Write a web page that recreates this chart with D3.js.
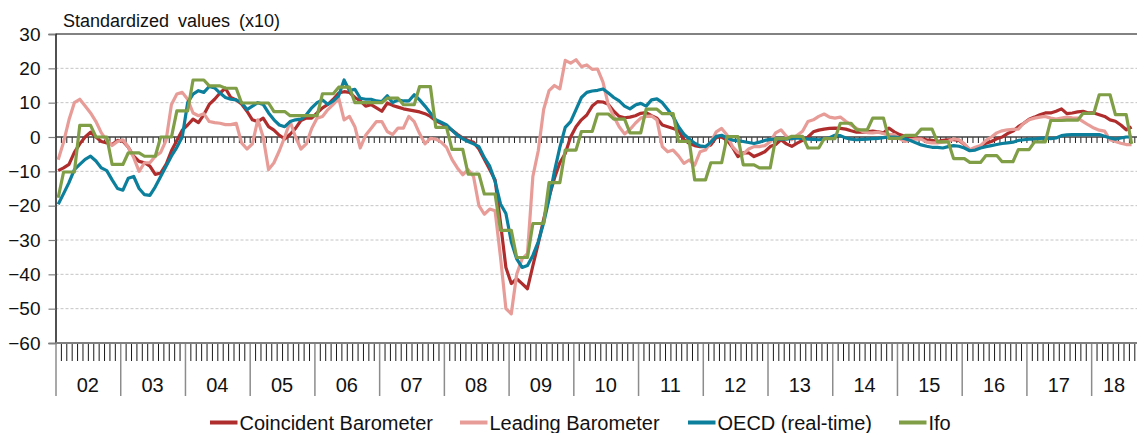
<!DOCTYPE html>
<html>
<head>
<meta charset="utf-8">
<script src="https://cdn.jsdelivr.net/npm/d3@7"></script>
<style>
  body { margin: 0; background: #fff; }
  svg { display: block; font-family: "Liberation Sans", Arial, sans-serif; }
</style>
</head>
<body>
<div id="chart"></div>
<script>
// monthly values, Jan 2002 .. Aug 2018
const yearLabels = ["02", "03", "04", "05", "06", "07", "08", "09", "10", "11", "12", "13", "14", "15", "16", "17", "18"];

const coincident = [
  -9.8, -9, -8, -4.5, -2, 0, 1.4, 0, -1.3, -1.7, -2.2, -1,
  -1.2, -3, -5.6, -7.1, -7.5, -8.5, -10.9, -10.5, -8, -4, -1, 2,
  3.5, 5.2, 4.2, 6.5, 9.5, 11, 12.8, 14.2, 11.5, 10.8, 9.6, 7.5,
  5, 4.5, 5.5, 3, 2, 0.5, -0.6, 0.8, 2.5, 4.8, 5.5, 5.5,
  7, 8.5, 9.5, 11, 12.8, 13.2, 13, 11.5, 10.5, 9, 9.4, 8.5,
  7.5, 9.9, 9.2, 8.7, 8.2, 7.9, 7.6, 7.3, 6.8, 6, 4.7, 4,
  3, 2, 0.8, -0.3, -1, -1.5, -3.5, -6.5, -9.5, -12.5, -25, -38,
  -42.7, -41.3, -42.7, -44.2, -37.5, -31, -24, -17.5, -12, -7.5, -4.8, 0,
  3, 5, 6.4, 9, 10.3, 10.2, 9.5, 7.5, 6, 5.6, 5.8, 6.2,
  6.9, 7.1, 6.2, 5.5, 3.5, 3, 2.5, 2, -0.7, -1.9, -2.5, -2.8,
  -2.8, -2.3, -0.1, 0, -0.9, -3, -5.7, -4.6, -4.6, -5.7, -5, -4.3,
  -2.8, -2.2, -0.8, -2, -2.7, -1.8, -1, 0, 1.5, 2, 2.3, 2.5,
  2.6, 2.5, 2.3, 1.8, 1.4, 1.4, 1.5, 1.7, 1.5, 1.2, 2.6, 1.5,
  0.7, 0.2, 0, -0.3, -0.5, -0.8, -1, -1.3, -1, -0.8, -0.8, -1,
  -2.2, -3.9, -3.3, -2.7, -1.8, -1.3, -0.5, 0, 1, 1.7, 3, 4,
  5.2, 5.8, 6.5, 7, 7, 7.5, 8.2, 6.8, 7, 7.3, 7.5, 7,
  7, 6.5, 6, 5, 4.6, 3.5, 2.1, 2.9
];

const leading = [
  -6.6, -1.5, 5, 10, 11, 9, 7, 4.5, 1.2, -1, -2.5, -1.3,
  -0.8, -3, -6, -10, -7.5, -7.5, -5.6, -4.5, -1, 9.5, 12.5, 13,
  11, 7, 6.2, 6.8, 4.5, 4.2, 4, 3.6, 3.6, 4, -1.7, -3.5,
  -2, 5, 0, -9.5, -7.5, -4, 0, 4.5, 0, -3.5, -2, 2.5,
  5.5, 6, 8, 9.5, 11.3, 5, 6, 3, -3.2, 0.5, 2.5, 4.5,
  4.5, 1.6, 0.7, 2.6, 2.6, 6, 4.5, 1, -2, -0.4, -0.6, -1.5,
  -3, -6.5, -9, -11, -9.5, -11.5, -20, -22.5, -21, -21.5, -35, -50,
  -51.5, -40, -35.5, -34, -11.5, -4, 8, 13.5, 15, 14, 22.3, 21.5,
  22.5, 20.5, 21, 19.7, 19.8, 16, 9.3, 6, 3, 0.9, 2.2, 4,
  5.5, 6, 6.1, 5, -2.8, -4.3, -3.8, -5.5, -7.7, -6.7, -8.2, -4.3,
  -3.8, -1.5, 1.5, 2.5, 0.6, -2.8, -4.5, -5, -3.5, -2.8, -2.8, -2.5,
  -1.4, 1.2, 2.1, 0.2, -0.8, 0.5, 1.7, 4.5, 5, 6, 6.7, 5.8,
  5.5, 5.8, 4.6, 3.5, 2.5, 1.7, 1.3, 1.2, 1.4, 1, 0.7, 0.7,
  -0.5, -1.3, -0.8, -0.6, -0.6, -1.5, -1.7, -1.7, -1.5, -1.3, -0.5, -0.8,
  -2, -3.7, -3, -2.5, -1, 0, 1.2, 1.8, 2.1, 2.2, 2.3, 4,
  5, 5.5, 5.8, 6, 5.5, 5.2, 5.5, 5.8, 5.6, 5.5, 4.5, 3.5,
  2.6, 2, 1.7, -0.8, -1.3, -1.8, -2.2, -2.2
];

const oecd = [
  -19.6, -16.5, -13.3, -9.5, -8, -6.5, -5.6, -7, -9, -9.8, -12.5, -15,
  -15.5, -12, -11.5, -15, -16.8, -17, -14.5, -11.5, -8.5, -5.5, -3, 0,
  10, 12.5, 13.5, 13, 14.7, 14.3, 12.8, 11.5, 11, 10.8, 10, 8,
  9, 10, 9.5, 7, 5, 3.5, 3, 4.5, 5, 5.2, 6.5, 8.5,
  10, 10.8, 9.5, 10.5, 12, 16.6, 13.5, 13.9, 11.3, 11, 11, 10.5,
  10.3, 12, 10, 10.8, 10.5, 10.5, 12.3, 10.8, 9, 7, 5, 4.3,
  3.5, 2, 0.5, -0.5, -1.3, -2, -2.8, -6, -8.5, -13, -19.5, -22.3,
  -30.5, -35.5, -38, -37.4, -34.5, -30.5, -25, -18, -10, -3, 2.8, 4.5,
  8, 11.5, 13, 13.4, 13.6, 14, 12.8, 11.5, 10.5, 9, 8.2, 9.3,
  9.8, 9, 10.8, 11.1, 10, 8, 6, 3, 0.8, -0.6, -1.8, -2.6,
  -2.8, -1.5, 0.2, 0.5, -0.3, -0.9, -1.1, -1.3, -1.6, -1.9, -1.5, -1,
  -0.7, -0.6, -0.6, -0.6, -0.4, -0.3, -0.5, -0.6, -0.7, -0.8, -0.6, -0.2,
  0.5, 0.4, -0.3, -0.6, -0.8, -0.7, -0.6, -0.5, -0.4, -0.2, 0, 0,
  -0.2, -0.5, -1, -1.7, -2.3, -2.7, -3, -3, -3.2, -2.8, -2.5, -2.7,
  -3.2, -4, -3.8, -3.2, -2.8, -2.5, -2.2, -1.9, -1.7, -1.5, -1, -0.8,
  -0.6, -0.6, -0.4, -0.3, -0.5, -0.3, 0.4, 0.6, 0.7, 0.7, 0.7, 0.7,
  0.7, 0.7, 0.2, -0.3, -0.6, -0.3, 0, 0
];

const ifo = [
  -17.7, -10.2, -10.2, -10.2, 3.4, 3.4, 3.4, 0, 0, 0, -8, -8,
  -8, -4.6, -4.6, -4.6, -5.6, -5.6, -5.6, 0, 0, 0, 7.6, 7.6,
  7.6, 16.6, 16.6, 16.6, 14.9, 14.9, 14.9, 14.2, 14.2, 14.2, 9.9, 9.9,
  9.9, 9.9, 9.9, 9.9, 7.4, 7.4, 7.4, 6.2, 6.2, 6.2, 6.2, 6.2,
  6.2, 12.6, 12.6, 12.6, 14.5, 14.5, 14.5, 10, 10, 10, 10, 10,
  10, 11.3, 11.3, 11.3, 9.4, 9.4, 9.4, 14.7, 14.7, 14.7, 2.8, 2.8,
  2.8, -3.6, -3.6, -3.6, -10.8, -10.8, -10.8, -16.6, -16.6, -16.6, -27.2, -27.2,
  -27.2, -35.1, -35.1, -35.1, -25.2, -25.2, -25.2, -13.3, -13.3, -13.3, -3.8, -3.8,
  -3.8, 1.6, 1.6, 1.6, 6.7, 6.7, 6.7, 5.2, 5.2, 5.2, 1.2, 1.2,
  1.2, 8.1, 8.1, 8.1, 6.8, 6.8, 6.8, -1.3, -1.3, -1.3, -12.5, -12.5,
  -12.5, -7.5, -7.5, -7.5, 0.1, 0.1, 0.1, -8.1, -8.1, -8.1, -9, -9,
  -9, -0.5, -0.5, -0.5, 0.2, 0.2, 0.2, -3.2, -3.2, -3.2, -0.5, -0.5,
  -0.5, 4, 4, 4, 2.1, 2.1, 2.1, 5.5, 5.5, 5.5, -0.4, -0.4,
  -0.4, 0.5, 0.5, 0.5, 2.3, 2.3, 2.3, -1.4, -1.4, -1.4, -6.3, -6.3,
  -6.3, -7.4, -7.4, -7.4, -5.4, -5.4, -5.4, -7.2, -7.2, -7.2, -3.7, -3.7,
  -3.7, -1.4, -1.4, -1.4, 4.8, 4.8, 4.8, 4.9, 4.9, 4.9, 6.9, 6.9,
  6.9, 12.3, 12.3, 12.3, 6.5, 6.5, 6.5, -2
];

const series = [
  { name: "Coincident Barometer", values: coincident, color: "#AF2D2D", legendX: 210 },
  { name: "Leading Barometer", values: leading, color: "#E79C98", legendX: 460 },
  { name: "OECD (real-time)", values: oecd, color: "#0B7F9C", legendX: 688 },
  { name: "Ifo", values: ifo, color: "#7F9E46", legendX: 899 }
];

function drawChart() {
    const W = 1138, H = 433;
    const left = 55.5, right = 1137, top = 34, bottom = 343;
    const nMonths = coincident.length;

    const svg = d3.select("#chart").append("svg")
        .attr("width", W)
        .attr("height", H);

    const x = d3.scaleLinear()
        .domain([0, nMonths + 0.5])
        .range([left, right]);

    const y = d3.scaleLinear()
        .domain([-60, 30])
        .range([bottom, top]);

    // dashed gridlines
    svg.append("g")
        .selectAll("line")
        .data([20, 10, -10, -20, -30, -40, -50])
        .enter()
        .append("line")
        .attr("x1", left)
        .attr("x2", right)
        .attr("y1", d => y(d))
        .attr("y2", d => y(d))
        .attr("stroke", "#c4c4c4")
        .attr("stroke-width", 1)
        .attr("stroke-dasharray", "3,2");

    // top border
    svg.append("line")
        .attr("x1", left).attr("x2", right)
        .attr("y1", y(30)).attr("y2", y(30))
        .attr("stroke", "#595959")
        .attr("stroke-width", 1.3);

    // y axis
    const yAxis = d3.axisLeft(y)
        .tickValues(d3.range(-60, 31, 10))
        .tickSize(7)
        .tickPadding(8);

    const yG = svg.append("g")
        .attr("transform", `translate(${left},0)`)
        .call(yAxis);
    yG.select(".domain").attr("stroke", "#262626").attr("stroke-width", 1.6);
    yG.selectAll(".tick line").attr("stroke", "#808080").attr("stroke-width", 1.2);
    yG.selectAll(".tick text")
        .style("font-size", "19px")
        .style("font-family", "'Liberation Sans', Arial, sans-serif")
        .attr("fill", "#111");

    // zero line with monthly ticks
    const zeroAxis = d3.axisBottom(x)
        .tickValues(d3.range(1, nMonths + 1))
        .tickSize(6)
        .tickFormat("");
    const zG = svg.append("g")
        .attr("transform", `translate(0,${y(0)})`)
        .call(zeroAxis);
    zG.select(".domain").remove();
    zG.selectAll(".tick line").attr("stroke", "#222").attr("stroke-width", 1);
    svg.append("line")
        .attr("x1", left).attr("x2", right)
        .attr("y1", y(0)).attr("y2", y(0))
        .attr("stroke", "#404040")
        .attr("stroke-width", 1.5);

    // bottom axis: monthly ticks
    const monthAxis = d3.axisBottom(x)
        .tickValues(d3.range(1, nMonths + 1).filter(m => m % 12 !== 0))
        .tickSize(18)
        .tickFormat("");
    const mG = svg.append("g")
        .attr("transform", `translate(0,${bottom})`)
        .call(monthAxis);
    mG.select(".domain").remove();
    mG.selectAll(".tick line").attr("stroke", "#1a1a1a").attr("stroke-width", 1);

    // year separators
    const yearAxis = d3.axisBottom(x)
        .tickValues(yearLabels.map((d, i) => i * 12))
        .tickSize(53)
        .tickFormat("");
    const sG = svg.append("g")
        .attr("transform", `translate(0,${bottom})`)
        .call(yearAxis);
    sG.select(".domain").remove();
    sG.selectAll(".tick line").attr("stroke", "#8c8c8c").attr("stroke-width", 1.5);

    svg.append("line")
        .attr("x1", left).attr("x2", right)
        .attr("y1", bottom).attr("y2", bottom)
        .attr("stroke", "#7f7f7f")
        .attr("stroke-width", 2);

    // year labels
    svg.append("g")
        .selectAll("text")
        .data(yearLabels)
        .enter()
        .append("text")
        .attr("x", (d, i) => (x(i * 12) + x(Math.min((i + 1) * 12, nMonths + 0.5))) / 2)
        .attr("y", 391.5)
        .attr("text-anchor", "middle")
        .style("font-size", "20px")
        .attr("fill", "#111")
        .text(d => d);

    // series lines
    const line = d3.line()
        .x((d, i) => x(i + 0.5))
        .y(d => y(d));

    svg.append("g")
        .selectAll("path")
        .data(series)
        .enter()
        .append("path")
        .attr("d", d => line(d.values))
        .attr("fill", "none")
        .attr("stroke", d => d.color)
        .attr("stroke-width", 3.2)
        .attr("stroke-linejoin", "round");

    // title
    svg.append("text")
        .attr("x", 63)
        .attr("y", 27)
        .style("font-size", "18px")
        .style("word-spacing", "4px")
        .attr("fill", "#111")
        .text("Standardized values (x10)");

    // legend
    const legend = svg.append("g")
        .selectAll("g")
        .data(series)
        .enter()
        .append("g")
        .attr("transform", d => `translate(${d.legendX},422.5)`);

    legend.append("line")
        .attr("x1", 0)
        .attr("x2", 27.5)
        .attr("stroke", d => d.color)
        .attr("stroke-width", 4);

    legend.append("text")
        .attr("x", 29.5)
        .attr("y", 7)
        .style("font-size", "20px")
        .attr("fill", "#111")
        .text(d => d.name);
}

drawChart();
</script>
</body>
</html>
